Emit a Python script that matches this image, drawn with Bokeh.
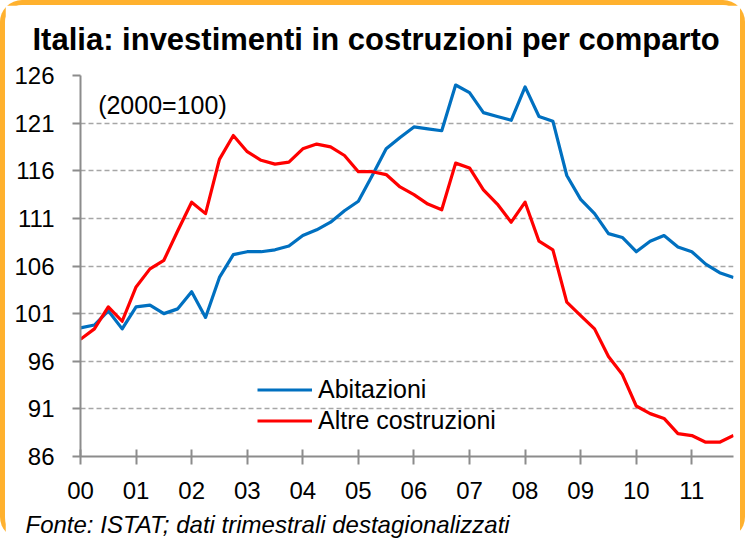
from bokeh.plotting import figure
from bokeh.models import Range1d, FixedTicker, Label, Legend, Title
from bokeh.embed import file_html
from bokeh.resources import INLINE

# ---- data (quarterly, 2000Q1 .. 2011Q4; index 2000=100) ----
years = ["00", "01", "02", "03", "04", "05", "06", "07", "08", "09", "10", "11"]
quarters = [f"20{y}Q{q}" for y in years for q in range(1, 5)]

abitazioni = [99.5, 99.8, 101.3, 99.4, 101.7, 101.9, 101.0, 101.5, 103.3, 100.6,
              104.8, 107.2, 107.5, 107.5, 107.7, 108.1, 109.2, 109.8, 110.6, 111.8,
              112.8, 115.5, 118.3, 119.5, 120.6, 120.4, 120.2, 125.0, 124.2, 122.1,
              121.7, 121.3, 124.8, 121.7, 121.2, 115.5, 113.0, 111.5, 109.4, 109.0,
              107.5, 108.6, 109.2, 108.0, 107.5, 106.2, 105.3, 104.8]

altre_costruzioni = [98.3, 99.4, 101.7, 100.2, 103.8, 105.7, 106.6, 109.7, 112.7, 111.5,
                     117.2, 119.7, 118.0, 117.1, 116.7, 116.9, 118.3, 118.8, 118.5, 117.6,
                     115.9, 115.9, 115.6, 114.3, 113.5, 112.5, 111.9, 116.8, 116.3, 114.0,
                     112.5, 110.6, 112.7, 108.6, 107.7, 102.2, 100.8, 99.4, 96.5, 94.6,
                     91.3, 90.5, 90.0, 88.4, 88.2, 87.5, 87.5, 88.2]

y_ticks = [86, 91, 96, 101, 106, 111, 116, 121, 126]

x = list(range(len(quarters)))
year_ticks = [i * 4 for i in range(len(years))]

FONT = "Liberation Sans"
BLUE = "#0070C0"
RED = "#FF0000"
ORANGE = "#FFB12E"

p = figure(width=745, height=539, output_backend="svg", toolbar_location=None,
           x_range=Range1d(0, len(x) - 1), y_range=Range1d(86, 126),
           min_border_left=75, min_border_right=17, min_border_top=69,
           min_border_bottom=87)
p.outline_line_color = None
p.background_fill_color = "white"
p.border_fill_color = "white"
p.styles = {"border": f"5px solid {ORANGE}", "border-bottom": "0px solid white",
            "border-radius": "22px"}

# title and source note
p.title.text = "Italia: investimenti in costruzioni per comparto"
p.title.text_font = FONT
p.title.text_font_style = "bold"
p.title.text_font_size = "31px"
p.title.align = "left"
p.title.vertical_align = "top"
p.title.padding = 12
p.title.offset = -60
p.title.standoff = 9
p.title.text_color = "black"

p.add_layout(Title(text="Fonte: ISTAT; dati trimestrali destagionalizzati",
                   text_font=FONT, text_font_style="italic", text_font_size="24px",
                   align="left", offset=-55, standoff=14, text_color="black"), "below")

r1 = p.line(x, abitazioni, line_color=BLUE, line_width=3.2, line_join="round")
r2 = p.line(x, altre_costruzioni, line_color=RED, line_width=3.2, line_join="round")

# axes
p.xaxis.ticker = FixedTicker(ticks=year_ticks)
p.xaxis.major_label_overrides = {t: y for t, y in zip(year_ticks, years)}
p.xaxis.minor_tick_line_color = None
p.xaxis.major_tick_in = 7
p.xaxis.major_tick_out = 8
p.xaxis.major_label_standoff = 17
p.yaxis.ticker = FixedTicker(ticks=y_ticks)
p.yaxis.minor_tick_line_color = None
p.yaxis.major_tick_in = 0
p.yaxis.major_tick_out = 8
p.yaxis.major_label_standoff = 18
for ax in (p.xaxis, p.yaxis):
    ax.axis_line_color = "#8C8C8C"
    ax.axis_line_width = 2
    ax.major_tick_line_color = "#8C8C8C"
    ax.major_tick_line_width = 2
    ax.major_label_text_font = FONT
    ax.major_label_text_font_size = "24px"
    ax.major_label_text_color = "black"

p.xgrid.visible = False
p.ygrid.grid_line_color = "#A6A6A6"
p.ygrid.grid_line_width = 1.5
p.ygrid.grid_line_dash = "5 3"

# legend
legend = Legend(items=[("Abitazioni", [r1]), ("Altre costruzioni", [r2])],
                location=(177, 20), orientation="vertical")
legend.background_fill_alpha = 0
legend.border_line_color = None
legend.padding = 0
legend.margin = 0
legend.spacing = 0
legend.glyph_width = 55
legend.glyph_height = 31
legend.label_height = 31
legend.label_standoff = 6
legend.label_text_font = FONT
legend.label_text_font_size = "25px"
legend.label_text_color = "black"
p.add_layout(legend, "center")

p.add_layout(Label(x=1.27, y=122.9, text="(2000=100)", text_font=FONT,
                   text_font_size="25px", text_align="left", text_baseline="middle",
                   text_color="black"))

open("out.html", "w").write(file_html(p, INLINE))
